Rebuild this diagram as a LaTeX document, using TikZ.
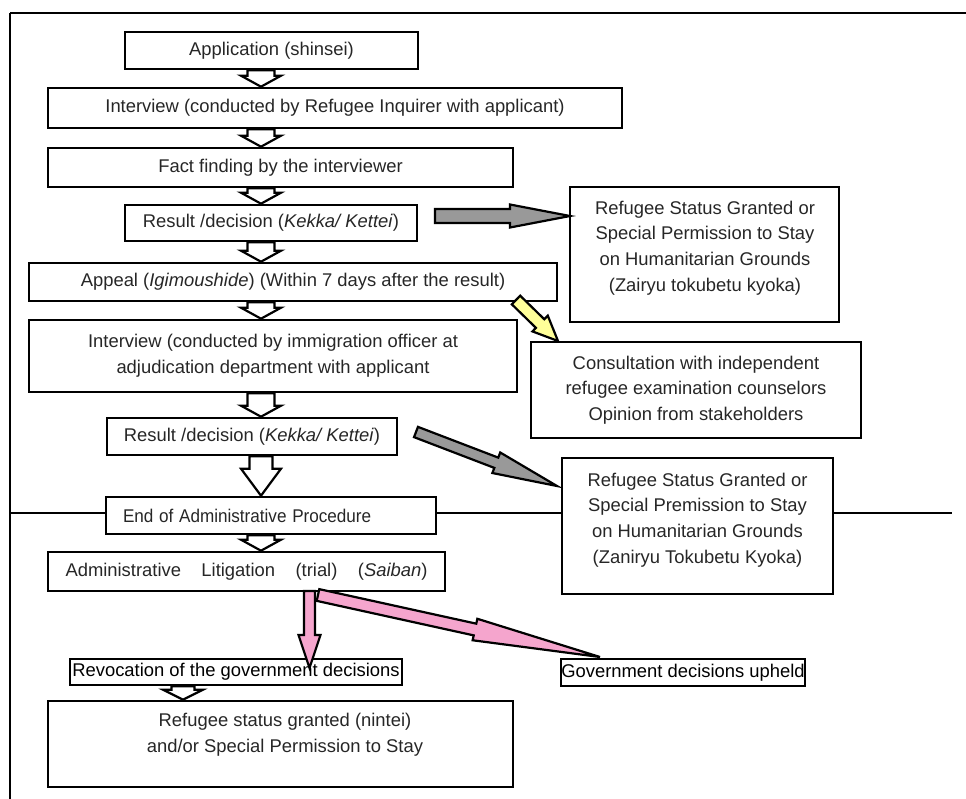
\documentclass[tikz,border=0pt]{standalone}
\usepackage{fontspec}
\usepackage{graphicx}
\setmainfont{Liberation Sans}
\usetikzlibrary{calc}
\definecolor{arrgray}{RGB}{153,153,153}
\definecolor{arrpink}{RGB}{245,165,205}
\definecolor{arryel}{RGB}{255,255,153}
\pgfdeclarelayer{bg}
\pgfsetlayers{bg,main}
% block arrow pointing down between two nodes (px units)
\newcommand\downblock[6]{%
  \draw[blockarrow] ($(#1.south -| #3)+(-#4,0)$) -- ($(#1.south -| #3)+(#4,0)$)
    -- ($(#2.north -| #3)+(#4,-#6)$) -- ($(#2.north -| #3)+(#5,-#6)$)
    -- (#2.north -| #3)
    -- ($(#2.north -| #3)+(-#5,-#6)$) -- ($(#2.north -| #3)+(-#4,-#6)$) -- cycle;}
% slanted block arrow from #1 to #2, shaft half width #3, head half width #4, head length #5
\newcommand\slantblock[6]{%
  \draw[arrowline,#6] ($(#1)!#3!90:(#2)$)
    -- ($(#2)!#5!(#1)!#3!90:(#2)$)
    -- ($(#2)!#5!(#1)!#4!90:(#2)$)
    -- (#2)
    -- ($(#2)!#5!(#1)!#4!-90:(#2)$)
    -- ($(#2)!#5!(#1)!#3!-90:(#2)$)
    -- ($(#1)!#3!-90:(#2)$) -- cycle;}
\begin{document}
\begin{tikzpicture}[x=0.5pt,y=-0.5pt,
  box/.style={draw, line width=1.3pt, inner sep=0pt, align=center, text=black!85,
    font=\fontsize{9.2}{12.85}\selectfont},
  txt/.style={inner sep=0pt, align=center, text=black!85, font=\fontsize{9.2}{12.85}\selectfont},
  sz/.style 2 args={minimum width=#1*0.5pt, minimum height=#2*0.5pt},
  blockarrow/.style={draw=black, fill=white, line width=1.1pt},
  arrowline/.style={draw=black, line width=1.1pt},
  rule/.style={line width=0.75pt}]
\useasboundingbox (0,0) rectangle (966,799);
% frame
\draw[line width=1.25pt] (10,13) -- (966,13);
\draw[line width=1pt] (10,13) -- (10,799);
% main column
\node[box, sz={293}{37}] (app) at (271.5,50.5) {Application (shinsei)};
\node[box, sz={574}{40}] (int1) at (335,108) {Interview (conducted by Refugee Inquirer with applicant)};
\node[box, sz={465}{39}] (fact) at (280.5,167.5) {Fact finding by the interviewer};
\node[box, sz={292}{36}] (res1) at (271,223) {Result /decision (\textit{Kekka/ Kettei})};
\node[box, sz={528}{38}] (appeal) at (293,282) {Appeal (\textit{Igimoushide}) (Within 7 days after the result)};
\node[box, sz={488}{72}] (int2) at (273,356) {Interview (conducted by immigration officer at\\adjudication department with applicant};
\node[box, sz={290}{37}] (res2) at (252,436.5) {Result /decision (\textit{Kekka/ Kettei})};
\node[box, sz={330}{37}, text width=148pt, align=left, inner xsep=8.5pt] (endp) at (271,515.5) {\scalebox{0.93}[1]{End of Administrative Procedure}};
\node[box, sz={397}{39}] (lit) at (246.5,571.5) {\makebox[181pt][s]{Administrative Litigation (trial) (\textit{Saiban})}};
\node[box, sz={332}{26}, text=black] (rev) at (236,672) {Revocation of the government decisions};
\node[box, sz={465}{86}] (grant) at (280.5,744) {};
\node[txt] (grantt) at (285,735) {Refugee status granted (nintei)\\and/or Special Permission to Stay};
% right column
\node[box, sz={269}{135}] (rs1) at (704.5,254.5) {};
\node[txt] (rs1t) at (705,248) {Refugee Status Granted or\\Special Permission to Stay\\on Humanitarian Grounds\\(Zairyu tokubetu kyoka)};
\node[box, sz={330}{96}] (cons) at (696,390) {Consultation with independent\\refugee examination counselors\\Opinion from stakeholders};
\node[box, sz={271}{136}] (rs2) at (697.5,526) {};
\node[txt] (rs2t) at (697.5,520) {Refugee Status Granted or\\Special Premission to Stay\\on Humanitarian Grounds\\(Zaniryu Tokubetu Kyoka)};
\node[box, sz={244}{27}, text=black] (upheld) at (683,672.5) {Government decisions upheld};
% horizontal rule
\coordinate (hlL) at (10,513);
\coordinate (hlR) at (952,513);
\draw[rule] (hlL) -- (hlL -| endp.west);
\draw[rule] (endp.east |- hlL) -- (rs2.west |- hlL);
\draw[rule] (rs2.east |- hlL) -- (hlR);
% down block arrows
\coordinate (colM) at (261,0);
\coordinate (colR) at (183,0);
\begin{pgfonlayer}{bg}
\downblock{app}{int1}{colM}{13.5}{20}{11}
\downblock{int1}{fact}{colM}{13.5}{20}{11}
\downblock{fact}{res1}{colM}{13.5}{20}{11}
\downblock{res1}{appeal}{colM}{13.5}{20}{11}
\downblock{appeal}{int2}{colM}{13.5}{20}{11}
\downblock{int2}{res2}{colM}{13.5}{20}{11}
\downblock{res2}{endp}{colM}{11.5}{20}{27}
\downblock{endp}{lit}{colM}{13.5}{20}{11}
\downblock{rev}{grant}{colR}{11.5}{20}{10}
\end{pgfonlayer}
% side arrows
\coordinate (g1a) at (435,216);
\coordinate (g1b) at (570,216);
\slantblock{g1a}{g1b}{3.5pt}{5.75pt}{30pt}{fill=arrgray}
\coordinate (ya) at (516,300);
\coordinate (yb) at (558,341);
\slantblock{ya}{yb}{3pt}{5.5pt}{12.5pt}{fill=arryel}
\coordinate (g2a) at (416,432);
\coordinate (g2b) at (557,486);
\slantblock{g2a}{g2b}{2.75pt}{5.5pt}{32.5pt}{fill=arrgray}
\coordinate (p2a) at (318,595);
\coordinate (p2b) at (600,657);
\slantblock{p2a}{p2b}{3pt}{5.5pt}{64pt}{fill=arrpink}
\coordinate (p1a) at (309.5,591);
\coordinate (p1b) at (309.5,668);
\slantblock{p1a}{p1b}{2.75pt}{5.5pt}{16.5pt}{fill=arrpink}
\end{tikzpicture}
\end{document}
